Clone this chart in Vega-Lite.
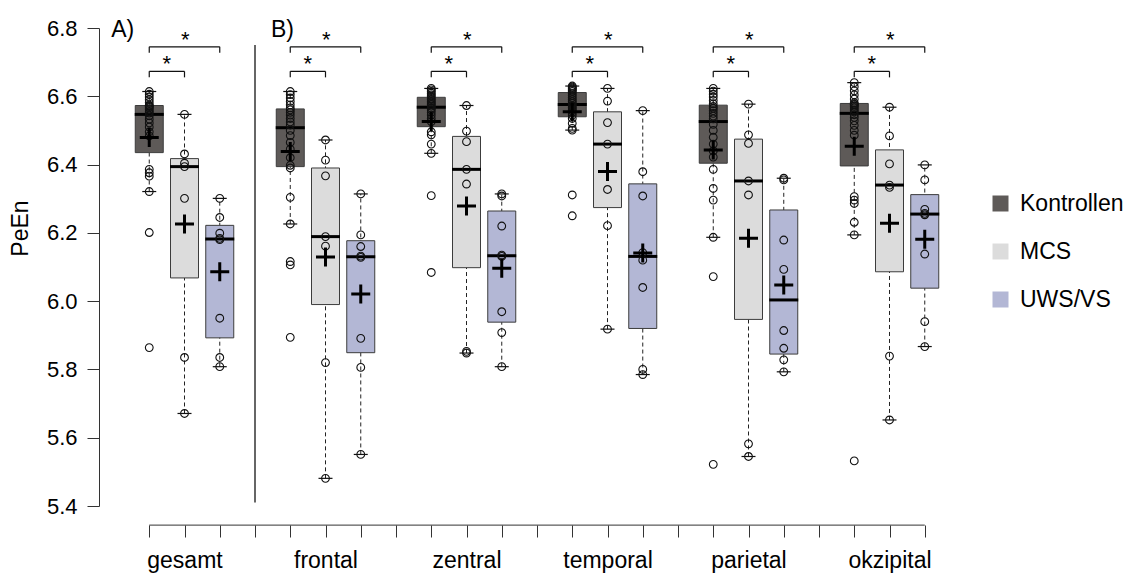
{
"$schema": "https://vega.github.io/schema/vega-lite/v6.json",
"width": 846, "height": 478,
"autosize": {"type": "none"},
"padding": {"left": 114, "top": 28, "right": 167, "bottom": 67},
"config": {"font": "Liberation Sans", "view": {"stroke": null}},
"datasets": {
"box": [
{"slot":"gesamt|Kontrollen","grp":"Kontrollen","lo":6.321,"q1":6.435,"med":6.547,"q3":6.573,"hi":6.614,"mean":6.479},
{"slot":"gesamt|MCS","grp":"MCS","lo":5.671,"q1":6.068,"med":6.394,"q3":6.4175,"hi":6.547,"mean":6.226},
{"slot":"gesamt|UWS/VS","grp":"UWS/VS","lo":5.808,"q1":5.8925,"med":6.182,"q3":6.222,"hi":6.301,"mean":6.086},
{"slot":"frontal|Kontrollen","grp":"Kontrollen","lo":6.226,"q1":6.394,"med":6.508,"q3":6.563,"hi":6.614,"mean":6.438},
{"slot":"frontal|MCS","grp":"MCS","lo":5.481,"q1":5.990,"med":6.189,"q3":6.390,"hi":6.472,"mean":6.129},
{"slot":"frontal|UWS/VS","grp":"UWS/VS","lo":5.551,"q1":5.849,"med":6.130,"q3":6.177,"hi":6.314,"mean":6.021},
{"slot":"zentral|Kontrollen","grp":"Kontrollen","lo":6.433,"q1":6.511,"med":6.568,"q3":6.597,"hi":6.623,"mean":6.526},
{"slot":"zentral|MCS","grp":"MCS","lo":5.848,"q1":6.098,"med":6.386,"q3":6.4825,"hi":6.573,"mean":6.279},
{"slot":"zentral|UWS/VS","grp":"UWS/VS","lo":5.808,"q1":5.9385,"med":6.133,"q3":6.264,"hi":6.314,"mean":6.096},
{"slot":"temporal|Kontrollen","grp":"Kontrollen","lo":6.501,"q1":6.540,"med":6.576,"q3":6.611,"hi":6.630,"mean":6.555},
{"slot":"temporal|MCS","grp":"MCS","lo":5.918,"q1":6.274,"med":6.460,"q3":6.5545,"hi":6.623,"mean":6.380},
{"slot":"temporal|UWS/VS","grp":"UWS/VS","lo":5.785,"q1":5.920,"med":6.131,"q3":6.3435,"hi":6.558,"mean":6.141},
{"slot":"parietal|Kontrollen","grp":"Kontrollen","lo":6.187,"q1":6.404,"med":6.526,"q3":6.574,"hi":6.623,"mean":6.443},
{"slot":"parietal|MCS","grp":"MCS","lo":5.545,"q1":5.9465,"med":6.352,"q3":6.4745,"hi":6.577,"mean":6.184},
{"slot":"parietal|UWS/VS","grp":"UWS/VS","lo":5.793,"q1":5.845,"med":6.0035,"q3":6.267,"hi":6.360,"mean":6.047},
{"slot":"okzipital|Kontrollen","grp":"Kontrollen","lo":6.194,"q1":6.396,"med":6.550,"q3":6.579,"hi":6.640,"mean":6.454},
{"slot":"okzipital|MCS","grp":"MCS","lo":5.652,"q1":6.086,"med":6.340,"q3":6.443,"hi":6.568,"mean":6.228},
{"slot":"okzipital|UWS/VS","grp":"UWS/VS","lo":5.867,"q1":6.038,"med":6.255,"q3":6.312,"hi":6.399,"mean":6.181}
],
"br": [
{"from":"gesamt|Kontrollen","to":"gesamt|MCS","lvl":6.673,"kind":"s"},
{"from":"gesamt|Kontrollen","to":"gesamt|UWS/VS","lvl":6.745,"kind":"l"},
{"from":"frontal|Kontrollen","to":"frontal|MCS","lvl":6.673,"kind":"s"},
{"from":"frontal|Kontrollen","to":"frontal|UWS/VS","lvl":6.745,"kind":"l"},
{"from":"zentral|Kontrollen","to":"zentral|MCS","lvl":6.673,"kind":"s"},
{"from":"zentral|Kontrollen","to":"zentral|UWS/VS","lvl":6.745,"kind":"l"},
{"from":"temporal|Kontrollen","to":"temporal|MCS","lvl":6.673,"kind":"s"},
{"from":"temporal|Kontrollen","to":"temporal|UWS/VS","lvl":6.745,"kind":"l"},
{"from":"parietal|Kontrollen","to":"parietal|MCS","lvl":6.673,"kind":"s"},
{"from":"parietal|Kontrollen","to":"parietal|UWS/VS","lvl":6.745,"kind":"l"},
{"from":"okzipital|Kontrollen","to":"okzipital|MCS","lvl":6.673,"kind":"s"},
{"from":"okzipital|Kontrollen","to":"okzipital|UWS/VS","lvl":6.745,"kind":"l"}
],
"pts": [
{"slot":"gesamt|Kontrollen","v":5.864},{"slot":"gesamt|Kontrollen","v":6.201},{"slot":"gesamt|Kontrollen","v":6.321},{"slot":"gesamt|Kontrollen","v":6.366},{"slot":"gesamt|Kontrollen","v":6.376},{"slot":"gesamt|Kontrollen","v":6.386},{"slot":"gesamt|Kontrollen","v":6.484},{"slot":"gesamt|Kontrollen","v":6.496},{"slot":"gesamt|Kontrollen","v":6.510},{"slot":"gesamt|Kontrollen","v":6.522},{"slot":"gesamt|Kontrollen","v":6.533},{"slot":"gesamt|Kontrollen","v":6.543},{"slot":"gesamt|Kontrollen","v":6.551},{"slot":"gesamt|Kontrollen","v":6.556},{"slot":"gesamt|Kontrollen","v":6.561},{"slot":"gesamt|Kontrollen","v":6.566},{"slot":"gesamt|Kontrollen","v":6.570},{"slot":"gesamt|Kontrollen","v":6.572},{"slot":"gesamt|Kontrollen","v":6.574},{"slot":"gesamt|Kontrollen","v":6.582},{"slot":"gesamt|Kontrollen","v":6.590},{"slot":"gesamt|Kontrollen","v":6.598},{"slot":"gesamt|Kontrollen","v":6.606},{"slot":"gesamt|Kontrollen","v":6.614},
{"slot":"gesamt|MCS","v":6.547},{"slot":"gesamt|MCS","v":6.431},{"slot":"gesamt|MCS","v":6.404},{"slot":"gesamt|MCS","v":6.394},{"slot":"gesamt|MCS","v":6.301},{"slot":"gesamt|MCS","v":5.835},{"slot":"gesamt|MCS","v":5.671},
{"slot":"gesamt|UWS/VS","v":6.301},{"slot":"gesamt|UWS/VS","v":6.245},{"slot":"gesamt|UWS/VS","v":6.199},{"slot":"gesamt|UWS/VS","v":6.184},{"slot":"gesamt|UWS/VS","v":6.180},{"slot":"gesamt|UWS/VS","v":5.950},{"slot":"gesamt|UWS/VS","v":5.835},{"slot":"gesamt|UWS/VS","v":5.808},
{"slot":"frontal|Kontrollen","v":5.894},{"slot":"frontal|Kontrollen","v":6.106},{"slot":"frontal|Kontrollen","v":6.116},{"slot":"frontal|Kontrollen","v":6.226},{"slot":"frontal|Kontrollen","v":6.304},{"slot":"frontal|Kontrollen","v":6.390},{"slot":"frontal|Kontrollen","v":6.398},{"slot":"frontal|Kontrollen","v":6.420},{"slot":"frontal|Kontrollen","v":6.445},{"slot":"frontal|Kontrollen","v":6.465},{"slot":"frontal|Kontrollen","v":6.485},{"slot":"frontal|Kontrollen","v":6.500},{"slot":"frontal|Kontrollen","v":6.516},{"slot":"frontal|Kontrollen","v":6.525},{"slot":"frontal|Kontrollen","v":6.535},{"slot":"frontal|Kontrollen","v":6.545},{"slot":"frontal|Kontrollen","v":6.553},{"slot":"frontal|Kontrollen","v":6.560},{"slot":"frontal|Kontrollen","v":6.566},{"slot":"frontal|Kontrollen","v":6.575},{"slot":"frontal|Kontrollen","v":6.585},{"slot":"frontal|Kontrollen","v":6.595},{"slot":"frontal|Kontrollen","v":6.605},{"slot":"frontal|Kontrollen","v":6.614},
{"slot":"frontal|MCS","v":6.472},{"slot":"frontal|MCS","v":6.413},{"slot":"frontal|MCS","v":6.367},{"slot":"frontal|MCS","v":6.189},{"slot":"frontal|MCS","v":6.161},{"slot":"frontal|MCS","v":5.820},{"slot":"frontal|MCS","v":5.481},
{"slot":"frontal|UWS/VS","v":6.314},{"slot":"frontal|UWS/VS","v":6.194},{"slot":"frontal|UWS/VS","v":6.160},{"slot":"frontal|UWS/VS","v":6.132},{"slot":"frontal|UWS/VS","v":6.128},{"slot":"frontal|UWS/VS","v":5.891},{"slot":"frontal|UWS/VS","v":5.806},{"slot":"frontal|UWS/VS","v":5.551},
{"slot":"zentral|Kontrollen","v":6.084},{"slot":"zentral|Kontrollen","v":6.309},{"slot":"zentral|Kontrollen","v":6.433},{"slot":"zentral|Kontrollen","v":6.460},{"slot":"zentral|Kontrollen","v":6.487},{"slot":"zentral|Kontrollen","v":6.496},{"slot":"zentral|Kontrollen","v":6.526},{"slot":"zentral|Kontrollen","v":6.535},{"slot":"zentral|Kontrollen","v":6.545},{"slot":"zentral|Kontrollen","v":6.553},{"slot":"zentral|Kontrollen","v":6.560},{"slot":"zentral|Kontrollen","v":6.565},{"slot":"zentral|Kontrollen","v":6.571},{"slot":"zentral|Kontrollen","v":6.576},{"slot":"zentral|Kontrollen","v":6.580},{"slot":"zentral|Kontrollen","v":6.585},{"slot":"zentral|Kontrollen","v":6.590},{"slot":"zentral|Kontrollen","v":6.594},{"slot":"zentral|Kontrollen","v":6.600},{"slot":"zentral|Kontrollen","v":6.604},{"slot":"zentral|Kontrollen","v":6.609},{"slot":"zentral|Kontrollen","v":6.614},{"slot":"zentral|Kontrollen","v":6.619},{"slot":"zentral|Kontrollen","v":6.623},
{"slot":"zentral|MCS","v":6.573},{"slot":"zentral|MCS","v":6.498},{"slot":"zentral|MCS","v":6.467},{"slot":"zentral|MCS","v":6.386},{"slot":"zentral|MCS","v":6.343},{"slot":"zentral|MCS","v":5.853},{"slot":"zentral|MCS","v":5.848},
{"slot":"zentral|UWS/VS","v":6.314},{"slot":"zentral|UWS/VS","v":6.308},{"slot":"zentral|UWS/VS","v":6.220},{"slot":"zentral|UWS/VS","v":6.135},{"slot":"zentral|UWS/VS","v":6.131},{"slot":"zentral|UWS/VS","v":5.969},{"slot":"zentral|UWS/VS","v":5.908},{"slot":"zentral|UWS/VS","v":5.808},
{"slot":"temporal|Kontrollen","v":6.250},{"slot":"temporal|Kontrollen","v":6.311},{"slot":"temporal|Kontrollen","v":6.501},{"slot":"temporal|Kontrollen","v":6.506},{"slot":"temporal|Kontrollen","v":6.521},{"slot":"temporal|Kontrollen","v":6.535},{"slot":"temporal|Kontrollen","v":6.545},{"slot":"temporal|Kontrollen","v":6.552},{"slot":"temporal|Kontrollen","v":6.558},{"slot":"temporal|Kontrollen","v":6.563},{"slot":"temporal|Kontrollen","v":6.568},{"slot":"temporal|Kontrollen","v":6.573},{"slot":"temporal|Kontrollen","v":6.579},{"slot":"temporal|Kontrollen","v":6.584},{"slot":"temporal|Kontrollen","v":6.590},{"slot":"temporal|Kontrollen","v":6.596},{"slot":"temporal|Kontrollen","v":6.602},{"slot":"temporal|Kontrollen","v":6.608},{"slot":"temporal|Kontrollen","v":6.614},{"slot":"temporal|Kontrollen","v":6.618},{"slot":"temporal|Kontrollen","v":6.621},{"slot":"temporal|Kontrollen","v":6.624},{"slot":"temporal|Kontrollen","v":6.627},{"slot":"temporal|Kontrollen","v":6.630},
{"slot":"temporal|MCS","v":6.623},{"slot":"temporal|MCS","v":6.586},{"slot":"temporal|MCS","v":6.523},{"slot":"temporal|MCS","v":6.460},{"slot":"temporal|MCS","v":6.327},{"slot":"temporal|MCS","v":6.221},{"slot":"temporal|MCS","v":5.918},
{"slot":"temporal|UWS/VS","v":6.558},{"slot":"temporal|UWS/VS","v":6.379},{"slot":"temporal|UWS/VS","v":6.308},{"slot":"temporal|UWS/VS","v":6.142},{"slot":"temporal|UWS/VS","v":6.120},{"slot":"temporal|UWS/VS","v":6.040},{"slot":"temporal|UWS/VS","v":5.800},{"slot":"temporal|UWS/VS","v":5.785},
{"slot":"parietal|Kontrollen","v":5.522},{"slot":"parietal|Kontrollen","v":6.072},{"slot":"parietal|Kontrollen","v":6.187},{"slot":"parietal|Kontrollen","v":6.296},{"slot":"parietal|Kontrollen","v":6.330},{"slot":"parietal|Kontrollen","v":6.386},{"slot":"parietal|Kontrollen","v":6.422},{"slot":"parietal|Kontrollen","v":6.440},{"slot":"parietal|Kontrollen","v":6.460},{"slot":"parietal|Kontrollen","v":6.480},{"slot":"parietal|Kontrollen","v":6.500},{"slot":"parietal|Kontrollen","v":6.518},{"slot":"parietal|Kontrollen","v":6.534},{"slot":"parietal|Kontrollen","v":6.542},{"slot":"parietal|Kontrollen","v":6.550},{"slot":"parietal|Kontrollen","v":6.558},{"slot":"parietal|Kontrollen","v":6.565},{"slot":"parietal|Kontrollen","v":6.570},{"slot":"parietal|Kontrollen","v":6.578},{"slot":"parietal|Kontrollen","v":6.588},{"slot":"parietal|Kontrollen","v":6.598},{"slot":"parietal|Kontrollen","v":6.606},{"slot":"parietal|Kontrollen","v":6.615},{"slot":"parietal|Kontrollen","v":6.623},
{"slot":"parietal|MCS","v":6.577},{"slot":"parietal|MCS","v":6.487},{"slot":"parietal|MCS","v":6.462},{"slot":"parietal|MCS","v":6.352},{"slot":"parietal|MCS","v":6.311},{"slot":"parietal|MCS","v":5.582},{"slot":"parietal|MCS","v":5.545},
{"slot":"parietal|UWS/VS","v":6.360},{"slot":"parietal|UWS/VS","v":6.355},{"slot":"parietal|UWS/VS","v":6.179},{"slot":"parietal|UWS/VS","v":6.093},{"slot":"parietal|UWS/VS","v":5.914},{"slot":"parietal|UWS/VS","v":5.862},{"slot":"parietal|UWS/VS","v":5.828},{"slot":"parietal|UWS/VS","v":5.793},
{"slot":"okzipital|Kontrollen","v":5.532},{"slot":"okzipital|Kontrollen","v":6.194},{"slot":"okzipital|Kontrollen","v":6.231},{"slot":"okzipital|Kontrollen","v":6.286},{"slot":"okzipital|Kontrollen","v":6.296},{"slot":"okzipital|Kontrollen","v":6.306},{"slot":"okzipital|Kontrollen","v":6.486},{"slot":"okzipital|Kontrollen","v":6.500},{"slot":"okzipital|Kontrollen","v":6.515},{"slot":"okzipital|Kontrollen","v":6.528},{"slot":"okzipital|Kontrollen","v":6.538},{"slot":"okzipital|Kontrollen","v":6.546},{"slot":"okzipital|Kontrollen","v":6.554},{"slot":"okzipital|Kontrollen","v":6.560},{"slot":"okzipital|Kontrollen","v":6.566},{"slot":"okzipital|Kontrollen","v":6.571},{"slot":"okzipital|Kontrollen","v":6.575},{"slot":"okzipital|Kontrollen","v":6.577},{"slot":"okzipital|Kontrollen","v":6.581},{"slot":"okzipital|Kontrollen","v":6.592},{"slot":"okzipital|Kontrollen","v":6.604},{"slot":"okzipital|Kontrollen","v":6.616},{"slot":"okzipital|Kontrollen","v":6.628},{"slot":"okzipital|Kontrollen","v":6.640},
{"slot":"okzipital|MCS","v":6.568},{"slot":"okzipital|MCS","v":6.484},{"slot":"okzipital|MCS","v":6.402},{"slot":"okzipital|MCS","v":6.340},{"slot":"okzipital|MCS","v":6.333},{"slot":"okzipital|MCS","v":5.839},{"slot":"okzipital|MCS","v":5.652},
{"slot":"okzipital|UWS/VS","v":6.399},{"slot":"okzipital|UWS/VS","v":6.355},{"slot":"okzipital|UWS/VS","v":6.269},{"slot":"okzipital|UWS/VS","v":6.257},{"slot":"okzipital|UWS/VS","v":6.253},{"slot":"okzipital|UWS/VS","v":6.138},{"slot":"okzipital|UWS/VS","v":5.940},{"slot":"okzipital|UWS/VS","v":5.867}
]
},
"layer": [
{"data": {"name": "box"},
 "mark": {"type": "rule", "strokeDash": [4, 3], "strokeWidth": 1, "color": "#222222"},
 "encoding": {
  "x": {"field": "slot", "type": "nominal", "scale": {"type": "point", "padding": 1, "domain": ["gesamt|Kontrollen","gesamt|MCS","gesamt|UWS/VS","gap1","frontal|Kontrollen","frontal|MCS","frontal|UWS/VS","gap2","zentral|Kontrollen","zentral|MCS","zentral|UWS/VS","gap3","temporal|Kontrollen","temporal|MCS","temporal|UWS/VS","gap4","parietal|Kontrollen","parietal|MCS","parietal|UWS/VS","gap5","okzipital|Kontrollen","okzipital|MCS","okzipital|UWS/VS"]},
   "axis": {"title": null, "orient": "bottom", "offset": 19, "domain": false, "grid": false, "ticks": true, "tickSize": 12, "tickColor": "#333333", "tickWidth": 1, "labelAngle": 0, "labelFontSize": 23, "labelColor": "#000000", "labelPadding": 12, "labelOverlap": false, "labelExpr": "indexof(datum.value, '|MCS') > 0 ? split(datum.value, '|')[0] : ''"}},
  "y": {"field": "lo", "type": "quantitative", "scale": {"domain": [5.4, 6.8], "nice": false, "zero": false},
   "axis": {"title": "PeEn", "offset": 15, "values": [5.4, 5.6, 5.8, 6.0, 6.2, 6.4, 6.6, 6.8], "format": ".1f", "grid": false, "domainColor": "#333333", "tickColor": "#333333", "tickSize": 12, "labelPadding": 10, "labelFontSize": 22, "labelColor": "#000000", "titleFontSize": 23, "titleFontWeight": "normal", "titleColor": "#000000", "titleX": -79, "titleY": 200, "titleAngle": -90, "titleAlign": "center", "titleBaseline": "middle"}},
  "y2": {"field": "hi"}
 }},
{"data": {"name": "box"},
 "mark": {"type": "bar", "size": 28, "stroke": "#3c3c3c", "strokeWidth": 1},
 "encoding": {
  "x": {"field": "slot", "type": "nominal", "scale": {"type": "point", "padding": 1, "domain": ["gesamt|Kontrollen","gesamt|MCS","gesamt|UWS/VS","gap1","frontal|Kontrollen","frontal|MCS","frontal|UWS/VS","gap2","zentral|Kontrollen","zentral|MCS","zentral|UWS/VS","gap3","temporal|Kontrollen","temporal|MCS","temporal|UWS/VS","gap4","parietal|Kontrollen","parietal|MCS","parietal|UWS/VS","gap5","okzipital|Kontrollen","okzipital|MCS","okzipital|UWS/VS"]},
   "axis": {"title": null, "orient": "bottom", "offset": 19, "domain": false, "grid": false, "ticks": true, "tickSize": 12, "tickColor": "#333333", "tickWidth": 1, "labelAngle": 0, "labelFontSize": 23, "labelColor": "#000000", "labelPadding": 12, "labelOverlap": false, "labelExpr": "indexof(datum.value, '|MCS') > 0 ? split(datum.value, '|')[0] : ''"}},
  "y": {"field": "q1", "type": "quantitative", "scale": {"domain": [5.4, 6.8], "nice": false, "zero": false},
   "axis": {"title": "PeEn", "offset": 15, "values": [5.4, 5.6, 5.8, 6.0, 6.2, 6.4, 6.6, 6.8], "format": ".1f", "grid": false, "domainColor": "#333333", "tickColor": "#333333", "tickSize": 12, "labelPadding": 10, "labelFontSize": 22, "labelColor": "#000000", "titleFontSize": 23, "titleFontWeight": "normal", "titleColor": "#000000", "titleX": -79, "titleY": 200, "titleAngle": -90, "titleAlign": "center", "titleBaseline": "middle"}},
  "y2": {"field": "q3"},
  "fill": {"field": "grp", "type": "nominal", "scale": {"domain": ["Kontrollen", "MCS", "UWS/VS"], "range": ["#5e5a58", "#dcdcdc", "#b3b7d5"]},
   "legend": {"orient": "none", "legendX": 875, "legendY": 164, "title": null, "symbolType": "square", "symbolSize": 256, "symbolStrokeWidth": 0, "labelFontSize": 23, "labelColor": "#000000", "labelOffset": 8, "rowPadding": 24, "padding": 0,
    "encode": {"symbols": {"update": {"fill": {"signal": "datum.value === 'UWS/VS' ? '#b4b6fa' : datum.value === 'MCS' ? '#dcdcdc' : '#5e5a58'"}, "strokeWidth": {"value": 0}, "opacity": {"value": 1}}}}}}
 }},
{"data": {"name": "box"},
 "mark": {"type": "tick", "orient": "horizontal", "size": 29, "thickness": 3, "color": "#000000", "opacity": 1},
 "encoding": {
  "x": {"field": "slot", "type": "nominal", "scale": {"type": "point", "padding": 1, "domain": ["gesamt|Kontrollen","gesamt|MCS","gesamt|UWS/VS","gap1","frontal|Kontrollen","frontal|MCS","frontal|UWS/VS","gap2","zentral|Kontrollen","zentral|MCS","zentral|UWS/VS","gap3","temporal|Kontrollen","temporal|MCS","temporal|UWS/VS","gap4","parietal|Kontrollen","parietal|MCS","parietal|UWS/VS","gap5","okzipital|Kontrollen","okzipital|MCS","okzipital|UWS/VS"]},
   "axis": {"title": null, "orient": "bottom", "offset": 19, "domain": false, "grid": false, "ticks": true, "tickSize": 12, "tickColor": "#333333", "tickWidth": 1, "labelAngle": 0, "labelFontSize": 23, "labelColor": "#000000", "labelPadding": 12, "labelOverlap": false, "labelExpr": "indexof(datum.value, '|MCS') > 0 ? split(datum.value, '|')[0] : ''"}},
  "y": {"field": "med", "type": "quantitative", "scale": {"domain": [5.4, 6.8], "nice": false, "zero": false},
   "axis": {"title": "PeEn", "offset": 15, "values": [5.4, 5.6, 5.8, 6.0, 6.2, 6.4, 6.6, 6.8], "format": ".1f", "grid": false, "domainColor": "#333333", "tickColor": "#333333", "tickSize": 12, "labelPadding": 10, "labelFontSize": 22, "labelColor": "#000000", "titleFontSize": 23, "titleFontWeight": "normal", "titleColor": "#000000", "titleX": -79, "titleY": 200, "titleAngle": -90, "titleAlign": "center", "titleBaseline": "middle"}}
 }},
{"data": {"name": "box"},
 "mark": {"type": "tick", "orient": "horizontal", "size": 14, "thickness": 1.2, "color": "#111111", "opacity": 1},
 "encoding": {
  "x": {"field": "slot", "type": "nominal", "scale": {"type": "point", "padding": 1, "domain": ["gesamt|Kontrollen","gesamt|MCS","gesamt|UWS/VS","gap1","frontal|Kontrollen","frontal|MCS","frontal|UWS/VS","gap2","zentral|Kontrollen","zentral|MCS","zentral|UWS/VS","gap3","temporal|Kontrollen","temporal|MCS","temporal|UWS/VS","gap4","parietal|Kontrollen","parietal|MCS","parietal|UWS/VS","gap5","okzipital|Kontrollen","okzipital|MCS","okzipital|UWS/VS"]},
   "axis": {"title": null, "orient": "bottom", "offset": 19, "domain": false, "grid": false, "ticks": true, "tickSize": 12, "tickColor": "#333333", "tickWidth": 1, "labelAngle": 0, "labelFontSize": 23, "labelColor": "#000000", "labelPadding": 12, "labelOverlap": false, "labelExpr": "indexof(datum.value, '|MCS') > 0 ? split(datum.value, '|')[0] : ''"}},
  "y": {"field": "lo", "type": "quantitative", "scale": {"domain": [5.4, 6.8], "nice": false, "zero": false},
   "axis": {"title": "PeEn", "offset": 15, "values": [5.4, 5.6, 5.8, 6.0, 6.2, 6.4, 6.6, 6.8], "format": ".1f", "grid": false, "domainColor": "#333333", "tickColor": "#333333", "tickSize": 12, "labelPadding": 10, "labelFontSize": 22, "labelColor": "#000000", "titleFontSize": 23, "titleFontWeight": "normal", "titleColor": "#000000", "titleX": -79, "titleY": 200, "titleAngle": -90, "titleAlign": "center", "titleBaseline": "middle"}}
 }},
{"data": {"name": "box"},
 "mark": {"type": "tick", "orient": "horizontal", "size": 14, "thickness": 1.2, "color": "#111111", "opacity": 1},
 "encoding": {
  "x": {"field": "slot", "type": "nominal", "scale": {"type": "point", "padding": 1, "domain": ["gesamt|Kontrollen","gesamt|MCS","gesamt|UWS/VS","gap1","frontal|Kontrollen","frontal|MCS","frontal|UWS/VS","gap2","zentral|Kontrollen","zentral|MCS","zentral|UWS/VS","gap3","temporal|Kontrollen","temporal|MCS","temporal|UWS/VS","gap4","parietal|Kontrollen","parietal|MCS","parietal|UWS/VS","gap5","okzipital|Kontrollen","okzipital|MCS","okzipital|UWS/VS"]},
   "axis": {"title": null, "orient": "bottom", "offset": 19, "domain": false, "grid": false, "ticks": true, "tickSize": 12, "tickColor": "#333333", "tickWidth": 1, "labelAngle": 0, "labelFontSize": 23, "labelColor": "#000000", "labelPadding": 12, "labelOverlap": false, "labelExpr": "indexof(datum.value, '|MCS') > 0 ? split(datum.value, '|')[0] : ''"}},
  "y": {"field": "hi", "type": "quantitative", "scale": {"domain": [5.4, 6.8], "nice": false, "zero": false},
   "axis": {"title": "PeEn", "offset": 15, "values": [5.4, 5.6, 5.8, 6.0, 6.2, 6.4, 6.6, 6.8], "format": ".1f", "grid": false, "domainColor": "#333333", "tickColor": "#333333", "tickSize": 12, "labelPadding": 10, "labelFontSize": 22, "labelColor": "#000000", "titleFontSize": 23, "titleFontWeight": "normal", "titleColor": "#000000", "titleX": -79, "titleY": 200, "titleAngle": -90, "titleAlign": "center", "titleBaseline": "middle"}}
 }},
{"data": {"name": "pts"},
 "mark": {"type": "point", "shape": "circle", "filled": false, "size": 60, "stroke": "#111111", "strokeWidth": 1.1, "opacity": 1},
 "encoding": {
  "x": {"field": "slot", "type": "nominal", "scale": {"type": "point", "padding": 1, "domain": ["gesamt|Kontrollen","gesamt|MCS","gesamt|UWS/VS","gap1","frontal|Kontrollen","frontal|MCS","frontal|UWS/VS","gap2","zentral|Kontrollen","zentral|MCS","zentral|UWS/VS","gap3","temporal|Kontrollen","temporal|MCS","temporal|UWS/VS","gap4","parietal|Kontrollen","parietal|MCS","parietal|UWS/VS","gap5","okzipital|Kontrollen","okzipital|MCS","okzipital|UWS/VS"]},
   "axis": {"title": null, "orient": "bottom", "offset": 19, "domain": false, "grid": false, "ticks": true, "tickSize": 12, "tickColor": "#333333", "tickWidth": 1, "labelAngle": 0, "labelFontSize": 23, "labelColor": "#000000", "labelPadding": 12, "labelOverlap": false, "labelExpr": "indexof(datum.value, '|MCS') > 0 ? split(datum.value, '|')[0] : ''"}},
  "y": {"field": "v", "type": "quantitative", "scale": {"domain": [5.4, 6.8], "nice": false, "zero": false},
   "axis": {"title": "PeEn", "offset": 15, "values": [5.4, 5.6, 5.8, 6.0, 6.2, 6.4, 6.6, 6.8], "format": ".1f", "grid": false, "domainColor": "#333333", "tickColor": "#333333", "tickSize": 12, "labelPadding": 10, "labelFontSize": 22, "labelColor": "#000000", "titleFontSize": 23, "titleFontWeight": "normal", "titleColor": "#000000", "titleX": -79, "titleY": 200, "titleAngle": -90, "titleAlign": "center", "titleBaseline": "middle"}}
 }},
{"data": {"name": "box"},
 "mark": {"type": "point", "shape": "M-1,0H1M0,-1V1", "filled": false, "size": 361, "stroke": "#000000", "strokeWidth": 3, "strokeCap": "butt", "opacity": 1},
 "encoding": {
  "x": {"field": "slot", "type": "nominal", "scale": {"type": "point", "padding": 1, "domain": ["gesamt|Kontrollen","gesamt|MCS","gesamt|UWS/VS","gap1","frontal|Kontrollen","frontal|MCS","frontal|UWS/VS","gap2","zentral|Kontrollen","zentral|MCS","zentral|UWS/VS","gap3","temporal|Kontrollen","temporal|MCS","temporal|UWS/VS","gap4","parietal|Kontrollen","parietal|MCS","parietal|UWS/VS","gap5","okzipital|Kontrollen","okzipital|MCS","okzipital|UWS/VS"]},
   "axis": {"title": null, "orient": "bottom", "offset": 19, "domain": false, "grid": false, "ticks": true, "tickSize": 12, "tickColor": "#333333", "tickWidth": 1, "labelAngle": 0, "labelFontSize": 23, "labelColor": "#000000", "labelPadding": 12, "labelOverlap": false, "labelExpr": "indexof(datum.value, '|MCS') > 0 ? split(datum.value, '|')[0] : ''"}},
  "y": {"field": "mean", "type": "quantitative", "scale": {"domain": [5.4, 6.8], "nice": false, "zero": false},
   "axis": {"title": "PeEn", "offset": 15, "values": [5.4, 5.6, 5.8, 6.0, 6.2, 6.4, 6.6, 6.8], "format": ".1f", "grid": false, "domainColor": "#333333", "tickColor": "#333333", "tickSize": 12, "labelPadding": 10, "labelFontSize": 22, "labelColor": "#000000", "titleFontSize": 23, "titleFontWeight": "normal", "titleColor": "#000000", "titleX": -79, "titleY": 200, "titleAngle": -90, "titleAlign": "center", "titleBaseline": "middle"}}
 }},
{"data": {"name": "br"},
 "mark": {"type": "rule", "color": "#111111", "strokeWidth": 1.2},
 "encoding": {
  "x": {"field": "from", "type": "nominal", "scale": {"type": "point", "padding": 1, "domain": ["gesamt|Kontrollen","gesamt|MCS","gesamt|UWS/VS","gap1","frontal|Kontrollen","frontal|MCS","frontal|UWS/VS","gap2","zentral|Kontrollen","zentral|MCS","zentral|UWS/VS","gap3","temporal|Kontrollen","temporal|MCS","temporal|UWS/VS","gap4","parietal|Kontrollen","parietal|MCS","parietal|UWS/VS","gap5","okzipital|Kontrollen","okzipital|MCS","okzipital|UWS/VS"]},
   "axis": {"title": null, "orient": "bottom", "offset": 19, "domain": false, "grid": false, "ticks": true, "tickSize": 12, "tickColor": "#333333", "tickWidth": 1, "labelAngle": 0, "labelFontSize": 23, "labelColor": "#000000", "labelPadding": 12, "labelOverlap": false, "labelExpr": "indexof(datum.value, '|MCS') > 0 ? split(datum.value, '|')[0] : ''"}},
  "x2": {"field": "to"},
  "y": {"field": "lvl", "type": "quantitative", "scale": {"domain": [5.4, 6.8], "nice": false, "zero": false},
   "axis": {"title": "PeEn", "offset": 15, "values": [5.4, 5.6, 5.8, 6.0, 6.2, 6.4, 6.6, 6.8], "format": ".1f", "grid": false, "domainColor": "#333333", "tickColor": "#333333", "tickSize": 12, "labelPadding": 10, "labelFontSize": 22, "labelColor": "#000000", "titleFontSize": 23, "titleFontWeight": "normal", "titleColor": "#000000", "titleX": -79, "titleY": 200, "titleAngle": -90, "titleAlign": "center", "titleBaseline": "middle"}}
 }},
{"data": {"name": "br"},
 "mark": {"type": "tick", "orient": "vertical", "size": 6, "thickness": 1.2, "yOffset": 3, "color": "#111111", "opacity": 1},
 "encoding": {
  "x": {"field": "from", "type": "nominal", "scale": {"type": "point", "padding": 1, "domain": ["gesamt|Kontrollen","gesamt|MCS","gesamt|UWS/VS","gap1","frontal|Kontrollen","frontal|MCS","frontal|UWS/VS","gap2","zentral|Kontrollen","zentral|MCS","zentral|UWS/VS","gap3","temporal|Kontrollen","temporal|MCS","temporal|UWS/VS","gap4","parietal|Kontrollen","parietal|MCS","parietal|UWS/VS","gap5","okzipital|Kontrollen","okzipital|MCS","okzipital|UWS/VS"]},
   "axis": {"title": null, "orient": "bottom", "offset": 19, "domain": false, "grid": false, "ticks": true, "tickSize": 12, "tickColor": "#333333", "tickWidth": 1, "labelAngle": 0, "labelFontSize": 23, "labelColor": "#000000", "labelPadding": 12, "labelOverlap": false, "labelExpr": "indexof(datum.value, '|MCS') > 0 ? split(datum.value, '|')[0] : ''"}},
  "y": {"field": "lvl", "type": "quantitative", "scale": {"domain": [5.4, 6.8], "nice": false, "zero": false},
   "axis": {"title": "PeEn", "offset": 15, "values": [5.4, 5.6, 5.8, 6.0, 6.2, 6.4, 6.6, 6.8], "format": ".1f", "grid": false, "domainColor": "#333333", "tickColor": "#333333", "tickSize": 12, "labelPadding": 10, "labelFontSize": 22, "labelColor": "#000000", "titleFontSize": 23, "titleFontWeight": "normal", "titleColor": "#000000", "titleX": -79, "titleY": 200, "titleAngle": -90, "titleAlign": "center", "titleBaseline": "middle"}}
 }},
{"data": {"name": "br"},
 "mark": {"type": "tick", "orient": "vertical", "size": 6, "thickness": 1.2, "yOffset": 3, "color": "#111111", "opacity": 1},
 "encoding": {
  "x": {"field": "to", "type": "nominal", "scale": {"type": "point", "padding": 1, "domain": ["gesamt|Kontrollen","gesamt|MCS","gesamt|UWS/VS","gap1","frontal|Kontrollen","frontal|MCS","frontal|UWS/VS","gap2","zentral|Kontrollen","zentral|MCS","zentral|UWS/VS","gap3","temporal|Kontrollen","temporal|MCS","temporal|UWS/VS","gap4","parietal|Kontrollen","parietal|MCS","parietal|UWS/VS","gap5","okzipital|Kontrollen","okzipital|MCS","okzipital|UWS/VS"]},
   "axis": {"title": null, "orient": "bottom", "offset": 19, "domain": false, "grid": false, "ticks": true, "tickSize": 12, "tickColor": "#333333", "tickWidth": 1, "labelAngle": 0, "labelFontSize": 23, "labelColor": "#000000", "labelPadding": 12, "labelOverlap": false, "labelExpr": "indexof(datum.value, '|MCS') > 0 ? split(datum.value, '|')[0] : ''"}},
  "y": {"field": "lvl", "type": "quantitative", "scale": {"domain": [5.4, 6.8], "nice": false, "zero": false},
   "axis": {"title": "PeEn", "offset": 15, "values": [5.4, 5.6, 5.8, 6.0, 6.2, 6.4, 6.6, 6.8], "format": ".1f", "grid": false, "domainColor": "#333333", "tickColor": "#333333", "tickSize": 12, "labelPadding": 10, "labelFontSize": 22, "labelColor": "#000000", "titleFontSize": 23, "titleFontWeight": "normal", "titleColor": "#000000", "titleX": -79, "titleY": 200, "titleAngle": -90, "titleAlign": "center", "titleBaseline": "middle"}}
 }},
{"data": {"name": "br"},
 "transform": [{"filter": "datum.kind == 's'"}],
 "mark": {"type": "text", "text": "*", "fontSize": 22, "align": "center", "baseline": "alphabetic", "dx": 17.6, "dy": 0, "color": "#000000"},
 "encoding": {
  "x": {"field": "from", "type": "nominal", "scale": {"type": "point", "padding": 1, "domain": ["gesamt|Kontrollen","gesamt|MCS","gesamt|UWS/VS","gap1","frontal|Kontrollen","frontal|MCS","frontal|UWS/VS","gap2","zentral|Kontrollen","zentral|MCS","zentral|UWS/VS","gap3","temporal|Kontrollen","temporal|MCS","temporal|UWS/VS","gap4","parietal|Kontrollen","parietal|MCS","parietal|UWS/VS","gap5","okzipital|Kontrollen","okzipital|MCS","okzipital|UWS/VS"]},
   "axis": {"title": null, "orient": "bottom", "offset": 19, "domain": false, "grid": false, "ticks": true, "tickSize": 12, "tickColor": "#333333", "tickWidth": 1, "labelAngle": 0, "labelFontSize": 23, "labelColor": "#000000", "labelPadding": 12, "labelOverlap": false, "labelExpr": "indexof(datum.value, '|MCS') > 0 ? split(datum.value, '|')[0] : ''"}},
  "y": {"field": "lvl", "type": "quantitative", "scale": {"domain": [5.4, 6.8], "nice": false, "zero": false},
   "axis": {"title": "PeEn", "offset": 15, "values": [5.4, 5.6, 5.8, 6.0, 6.2, 6.4, 6.6, 6.8], "format": ".1f", "grid": false, "domainColor": "#333333", "tickColor": "#333333", "tickSize": 12, "labelPadding": 10, "labelFontSize": 22, "labelColor": "#000000", "titleFontSize": 23, "titleFontWeight": "normal", "titleColor": "#000000", "titleX": -79, "titleY": 200, "titleAngle": -90, "titleAlign": "center", "titleBaseline": "middle"}}
 }},
{"data": {"name": "br"},
 "transform": [{"filter": "datum.kind == 'l'"}],
 "mark": {"type": "text", "text": "*", "fontSize": 22, "align": "center", "baseline": "alphabetic", "dx": 36, "dy": 0, "color": "#000000"},
 "encoding": {
  "x": {"field": "from", "type": "nominal", "scale": {"type": "point", "padding": 1, "domain": ["gesamt|Kontrollen","gesamt|MCS","gesamt|UWS/VS","gap1","frontal|Kontrollen","frontal|MCS","frontal|UWS/VS","gap2","zentral|Kontrollen","zentral|MCS","zentral|UWS/VS","gap3","temporal|Kontrollen","temporal|MCS","temporal|UWS/VS","gap4","parietal|Kontrollen","parietal|MCS","parietal|UWS/VS","gap5","okzipital|Kontrollen","okzipital|MCS","okzipital|UWS/VS"]},
   "axis": {"title": null, "orient": "bottom", "offset": 19, "domain": false, "grid": false, "ticks": true, "tickSize": 12, "tickColor": "#333333", "tickWidth": 1, "labelAngle": 0, "labelFontSize": 23, "labelColor": "#000000", "labelPadding": 12, "labelOverlap": false, "labelExpr": "indexof(datum.value, '|MCS') > 0 ? split(datum.value, '|')[0] : ''"}},
  "y": {"field": "lvl", "type": "quantitative", "scale": {"domain": [5.4, 6.8], "nice": false, "zero": false},
   "axis": {"title": "PeEn", "offset": 15, "values": [5.4, 5.6, 5.8, 6.0, 6.2, 6.4, 6.6, 6.8], "format": ".1f", "grid": false, "domainColor": "#333333", "tickColor": "#333333", "tickSize": 12, "labelPadding": 10, "labelFontSize": 22, "labelColor": "#000000", "titleFontSize": 23, "titleFontWeight": "normal", "titleColor": "#000000", "titleX": -79, "titleY": 200, "titleAngle": -90, "titleAlign": "center", "titleBaseline": "middle"}}
 }},
{"data": {"values": [{}]},
 "mark": {"type": "text", "text": "A)", "fontSize": 23, "align": "left", "baseline": "alphabetic", "dx": -38, "color": "#000000"},
 "encoding": {
  "x": {"datum": "gesamt|Kontrollen", "type": "nominal", "scale": {"type": "point", "padding": 1, "domain": ["gesamt|Kontrollen","gesamt|MCS","gesamt|UWS/VS","gap1","frontal|Kontrollen","frontal|MCS","frontal|UWS/VS","gap2","zentral|Kontrollen","zentral|MCS","zentral|UWS/VS","gap3","temporal|Kontrollen","temporal|MCS","temporal|UWS/VS","gap4","parietal|Kontrollen","parietal|MCS","parietal|UWS/VS","gap5","okzipital|Kontrollen","okzipital|MCS","okzipital|UWS/VS"]},
   "axis": {"title": null, "orient": "bottom", "offset": 19, "domain": false, "grid": false, "ticks": true, "tickSize": 12, "tickColor": "#333333", "tickWidth": 1, "labelAngle": 0, "labelFontSize": 23, "labelColor": "#000000", "labelPadding": 12, "labelOverlap": false, "labelExpr": "indexof(datum.value, '|MCS') > 0 ? split(datum.value, '|')[0] : ''"}},
  "y": {"datum": 6.775, "type": "quantitative", "scale": {"domain": [5.4, 6.8], "nice": false, "zero": false},
   "axis": {"title": "PeEn", "offset": 15, "values": [5.4, 5.6, 5.8, 6.0, 6.2, 6.4, 6.6, 6.8], "format": ".1f", "grid": false, "domainColor": "#333333", "tickColor": "#333333", "tickSize": 12, "labelPadding": 10, "labelFontSize": 22, "labelColor": "#000000", "titleFontSize": 23, "titleFontWeight": "normal", "titleColor": "#000000", "titleX": -79, "titleY": 200, "titleAngle": -90, "titleAlign": "center", "titleBaseline": "middle"}}
 }},
{"data": {"values": [{}]},
 "mark": {"type": "text", "text": "B)", "fontSize": 23, "align": "left", "baseline": "alphabetic", "dx": 16, "color": "#000000"},
 "encoding": {
  "x": {"datum": "gap1", "type": "nominal", "scale": {"type": "point", "padding": 1, "domain": ["gesamt|Kontrollen","gesamt|MCS","gesamt|UWS/VS","gap1","frontal|Kontrollen","frontal|MCS","frontal|UWS/VS","gap2","zentral|Kontrollen","zentral|MCS","zentral|UWS/VS","gap3","temporal|Kontrollen","temporal|MCS","temporal|UWS/VS","gap4","parietal|Kontrollen","parietal|MCS","parietal|UWS/VS","gap5","okzipital|Kontrollen","okzipital|MCS","okzipital|UWS/VS"]},
   "axis": {"title": null, "orient": "bottom", "offset": 19, "domain": false, "grid": false, "ticks": true, "tickSize": 12, "tickColor": "#333333", "tickWidth": 1, "labelAngle": 0, "labelFontSize": 23, "labelColor": "#000000", "labelPadding": 12, "labelOverlap": false, "labelExpr": "indexof(datum.value, '|MCS') > 0 ? split(datum.value, '|')[0] : ''"}},
  "y": {"datum": 6.775, "type": "quantitative", "scale": {"domain": [5.4, 6.8], "nice": false, "zero": false},
   "axis": {"title": "PeEn", "offset": 15, "values": [5.4, 5.6, 5.8, 6.0, 6.2, 6.4, 6.6, 6.8], "format": ".1f", "grid": false, "domainColor": "#333333", "tickColor": "#333333", "tickSize": 12, "labelPadding": 10, "labelFontSize": 22, "labelColor": "#000000", "titleFontSize": 23, "titleFontWeight": "normal", "titleColor": "#000000", "titleX": -79, "titleY": 200, "titleAngle": -90, "titleAlign": "center", "titleBaseline": "middle"}}
 }},
{"data": {"values": [{}]},
 "mark": {"type": "rule", "color": "#333333", "strokeWidth": 1.5},
 "encoding": {
  "x": {"datum": "gap1", "type": "nominal", "scale": {"type": "point", "padding": 1, "domain": ["gesamt|Kontrollen","gesamt|MCS","gesamt|UWS/VS","gap1","frontal|Kontrollen","frontal|MCS","frontal|UWS/VS","gap2","zentral|Kontrollen","zentral|MCS","zentral|UWS/VS","gap3","temporal|Kontrollen","temporal|MCS","temporal|UWS/VS","gap4","parietal|Kontrollen","parietal|MCS","parietal|UWS/VS","gap5","okzipital|Kontrollen","okzipital|MCS","okzipital|UWS/VS"]},
   "axis": {"title": null, "orient": "bottom", "offset": 19, "domain": false, "grid": false, "ticks": true, "tickSize": 12, "tickColor": "#333333", "tickWidth": 1, "labelAngle": 0, "labelFontSize": 23, "labelColor": "#000000", "labelPadding": 12, "labelOverlap": false, "labelExpr": "indexof(datum.value, '|MCS') > 0 ? split(datum.value, '|')[0] : ''"}},
  "y": {"datum": 5.41, "type": "quantitative", "scale": {"domain": [5.4, 6.8], "nice": false, "zero": false},
   "axis": {"title": "PeEn", "offset": 15, "values": [5.4, 5.6, 5.8, 6.0, 6.2, 6.4, 6.6, 6.8], "format": ".1f", "grid": false, "domainColor": "#333333", "tickColor": "#333333", "tickSize": 12, "labelPadding": 10, "labelFontSize": 22, "labelColor": "#000000", "titleFontSize": 23, "titleFontWeight": "normal", "titleColor": "#000000", "titleX": -79, "titleY": 200, "titleAngle": -90, "titleAlign": "center", "titleBaseline": "middle"}},
  "y2": {"datum": 6.75}
 }},
{"data": {"values": [{}]},
 "mark": {"type": "rule", "color": "#333333", "strokeWidth": 1},
 "encoding": {
  "x": {"datum": "gesamt|Kontrollen", "type": "nominal", "scale": {"type": "point", "padding": 1, "domain": ["gesamt|Kontrollen","gesamt|MCS","gesamt|UWS/VS","gap1","frontal|Kontrollen","frontal|MCS","frontal|UWS/VS","gap2","zentral|Kontrollen","zentral|MCS","zentral|UWS/VS","gap3","temporal|Kontrollen","temporal|MCS","temporal|UWS/VS","gap4","parietal|Kontrollen","parietal|MCS","parietal|UWS/VS","gap5","okzipital|Kontrollen","okzipital|MCS","okzipital|UWS/VS"]},
   "axis": {"title": null, "orient": "bottom", "offset": 19, "domain": false, "grid": false, "ticks": true, "tickSize": 12, "tickColor": "#333333", "tickWidth": 1, "labelAngle": 0, "labelFontSize": 23, "labelColor": "#000000", "labelPadding": 12, "labelOverlap": false, "labelExpr": "indexof(datum.value, '|MCS') > 0 ? split(datum.value, '|')[0] : ''"}},
  "x2": {"datum": "okzipital|UWS/VS"},
  "y": {"datum": 5.344, "type": "quantitative", "scale": {"domain": [5.4, 6.8], "nice": false, "zero": false},
   "axis": {"title": "PeEn", "offset": 15, "values": [5.4, 5.6, 5.8, 6.0, 6.2, 6.4, 6.6, 6.8], "format": ".1f", "grid": false, "domainColor": "#333333", "tickColor": "#333333", "tickSize": 12, "labelPadding": 10, "labelFontSize": 22, "labelColor": "#000000", "titleFontSize": 23, "titleFontWeight": "normal", "titleColor": "#000000", "titleX": -79, "titleY": 200, "titleAngle": -90, "titleAlign": "center", "titleBaseline": "middle"}}
 }}
]
}
